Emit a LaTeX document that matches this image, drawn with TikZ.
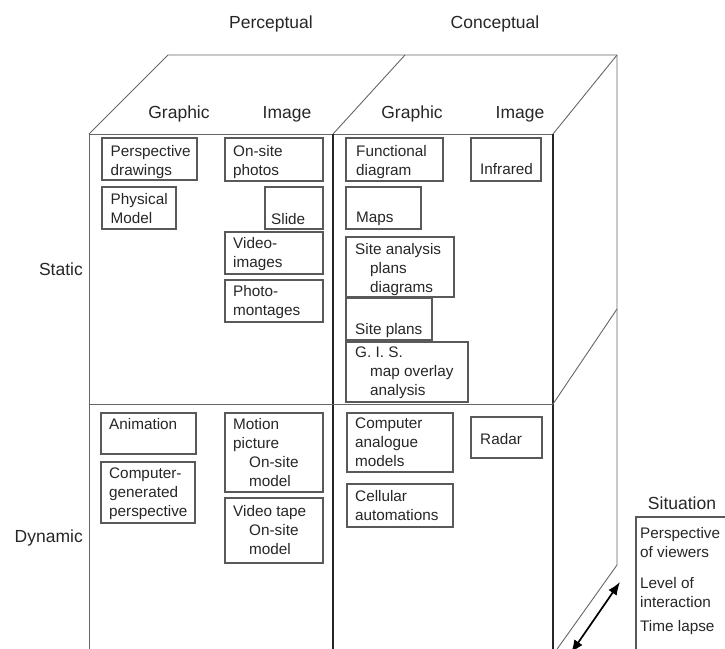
\documentclass[tikz,border=0pt]{standalone}
\usepackage{fontspec}
\setmainfont{Liberation Sans}
\usetikzlibrary{arrows.meta}
\newcommand{\ubox}[5]{\node[bx, minimum width={#4-#2}, minimum height={#5-#3}] (#1) at (#2,#3) {};}
\begin{document}
\begin{tikzpicture}[x=1pt,y=-1pt,
  cube/.style={draw=black!60, line width=0.9pt},
  cubedark/.style={draw=black!85, line width=1.1pt},
  bx/.style={draw=black!65, line width=1.1pt, anchor=north west, inner sep=0pt, outer sep=0pt},
  bt/.style={anchor=north west, inner sep=0pt, align=left, text=black!85, font=\fontsize{15.3}{19}\selectfont},
  hd/.style={anchor=base, inner sep=0pt, text=black!85, font=\fontsize{17.5}{21}\selectfont},
  dbl/.style={line width=1.7pt, {Latex[length=13pt,width=10pt]}-{Latex[length=13pt,width=10pt]}},
]
\useasboundingbox (0,0) rectangle (725,648);
% cube corners
\coordinate (FTL) at (89,134);
\coordinate (FTM) at (333,134);
\coordinate (FTR) at (553,134);
\coordinate (BTL) at (168,55);
\coordinate (BTM) at (405,55);
\coordinate (BTR) at (617,55);
\coordinate (FML) at (89,404);
\coordinate (FMR) at (553,404);
\coordinate (BMR) at (617,309);
\coordinate (BKR) at (617,565);
\coordinate (FBL) at (89,652);
\coordinate (FBM) at (333,652);
\coordinate (FBR) at (553,652);
\coordinate (BBR) at (555,652);
% top face
\draw[cube] (FTL) -- (BTL) -- (BTR);
\draw[cube] (FTM) -- (BTM);
\draw[cube] (FTR) -- (BTR);
\draw[cube] (FTL) -- (FTR);
% front face
\draw[cube] (FTL) -- (FBL);
\draw[cubedark] (FTM) -- (FBM);
\draw[cubedark] (FTR) -- (FBR);
\draw[cube] (FML) -- (FMR);
% side face
\draw[cube] (BTR) -- (BKR) -- (BBR);
\draw[cube] (FMR) -- (BMR);
% headers
\node[hd] (perc) at (271,28) {Perceptual};
\node[hd] (conc) at (495,28) {Conceptual};
\node[hd] (g1) at (179,118) {Graphic};
\node[hd] (i1) at (287,118) {Image};
\node[hd] (g2) at (412,118) {Graphic};
\node[hd] (i2) at (520,118) {Image};
\node[hd, anchor=base east] (static) at (83,275) {Static};
\node[hd, anchor=base east] (dynamic) at (83,542) {Dynamic};
% boxes - perceptual static
\ubox{pd}{102}{138}{197}{180}
\node[bt] (pdt) at (110.5,145) {Perspective\\drawings};
\ubox{os}{225}{138}{323}{181}
\node[bt] (ost) at (233,145) {On-site\\photos};
\ubox{pm}{102}{187}{176}{229}
\node[bt] (pmt) at (110.5,193) {Physical\\Model};
\ubox{sl}{265}{187}{323}{229}
\node[bt] (slt) at (271,213) {Slide};
\ubox{vi}{225}{232}{323}{274}
\node[bt] (vit) at (233,237) {Video-\\images};
\ubox{ph}{225}{280}{323}{322}
\node[bt] (pht) at (233,285) {Photo-\\montages};
% conceptual static
\ubox{fd}{346}{138}{443}{181}
\node[bt] (fdt) at (356,145) {Functional\\diagram};
\ubox{ir}{471}{138}{541}{181}
\node[bt] (irt) at (480,163) {Infrared};
\ubox{mp}{346}{187}{421}{229}
\node[bt] (mpt) at (356,212) {Maps};
\ubox{sa}{346}{237}{454}{297}
\node[bt] (sat) at (355,243) {Site analysis\\\hspace*{15pt}plans\\\hspace*{15pt}diagrams};
\ubox{sp}{346}{298}{432}{340}
\node[bt] (spt) at (355,323) {Site plans};
\ubox{gis}{346}{342}{468}{402}
\node[bt] (gist) at (355,347) {G. I. S.\\\hspace*{15pt}map overlay\\\hspace*{15pt}analysis};
% perceptual dynamic
\ubox{an}{101}{413}{196}{454}
\node[bt] (ant) at (109,418) {Animation};
\ubox{cg}{101}{462}{195}{523}
\node[bt] (cgt) at (109,468) {Computer-\\generated\\perspective};
\ubox{mo}{225}{413}{323}{492}
\node[bt] (mot) at (233,418) {Motion\\picture\\\hspace*{16pt}On-site\\\hspace*{16pt}model};
\ubox{vt}{225}{498}{323}{563}
\node[bt] (vtt) at (233,505) {Video tape\\\hspace*{16pt}On-site\\\hspace*{16pt}model};
% conceptual dynamic
\ubox{ca}{347}{413}{453}{472}
\node[bt] (cat) at (355,418) {Computer\\analogue\\models};
\ubox{rd}{471}{417}{542}{458}
\node[bt] (rdt) at (480,433) {Radar};
\ubox{ce}{347}{484}{453}{527}
\node[bt] (cet) at (355,490) {Cellular\\automations};
% situation
\node[hd] (sit) at (682,509) {Situation};
\ubox{sitbox}{636}{517}{760}{680}
\node[bt] (s1) at (640,527) {Perspective\\of viewers};
\node[bt] (s2) at (640,577) {Level of\\interaction};
\node[bt] (s3) at (640,620) {Time lapse};
% arrow
\coordinate (AU) at (620,582);
\coordinate (AD) at (571,653);
\draw[dbl] (AD) -- (AU);
\end{tikzpicture}
\end{document}
